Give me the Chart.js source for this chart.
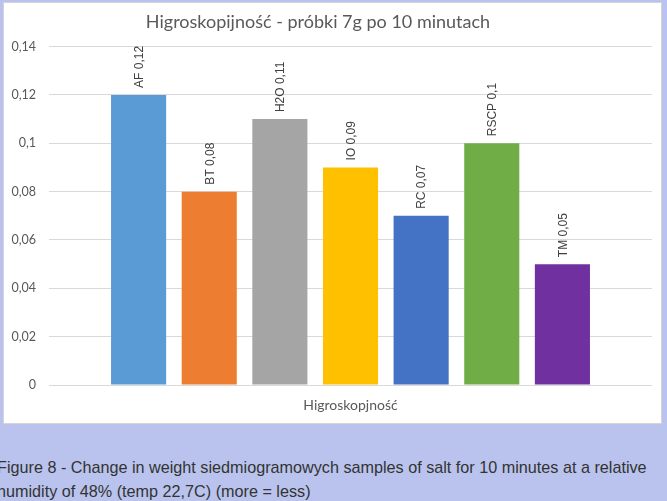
<!DOCTYPE html>
<html>
<head>
<meta charset="utf-8">
<script src="https://cdn.jsdelivr.net/npm/chart.js@4.4.1/dist/chart.umd.min.js"></script>
<style>
  html, body { margin: 0; padding: 0; }
  body { width: 667px; height: 501px; background: #b9c3ed; position: relative; overflow: hidden; }
  #box { position: absolute; left: 3px; top: 2px; width: 657px; height: 420px; background: #fff; border: 1px solid #d4d4d4; }
  #box canvas { display: block; }
  #cap { position: absolute; left: -3px; top: 455px; width: 700px; font-family: "Liberation Sans", Arial, sans-serif; font-size: 16.2px; line-height: 24px; color: #333; white-space: nowrap; }
</style>
</head>
<body>
<div id="box"><canvas id="c" width="657" height="420"></canvas></div>
<div id="cap">Figure 8 - Change in weight siedmiogramowych samples of salt for 10 minutes at a relative<br>humidity of 48% (temp 22,7C) (more = less)</div>
<script>
const categories = ["Higroskopjność"];
const seriesNames = ["AF", "BT", "H2O", "IO", "RC", "RSCP", "TM"];
const seriesValues = [0.12, 0.08, 0.11, 0.09, 0.07, 0.1, 0.05];
const seriesColors = ["#5b9bd5", "#ed7d31", "#a5a5a5", "#ffc000", "#4472c4", "#70ad47", "#7030a0"];
const yTicks = [0, 0.02, 0.04, 0.06, 0.08, 0.1, 0.12, 0.14];

const fmt = v => String(Math.round(v * 100) / 100).replace('.', ',');

const labelPlugin = {
  id: 'vlabels',
  afterLayout(chart) {
    const t = chart.titleBlock;
    if (t) { t.left -= 10; t.right -= 10; }
  },
  afterDatasetsDraw(chart) {
    const ctx = chart.ctx;
    ctx.save();
    ctx.font = '12px "Liberation Sans", Arial, sans-serif';
    ctx.fillStyle = '#404040';
    ctx.textAlign = 'left';
    ctx.textBaseline = 'middle';
    chart.data.datasets.forEach((ds, i) => {
      const meta = chart.getDatasetMeta(i);
      meta.data.forEach((bar, j) => {
        ctx.save();
        ctx.translate(bar.x + 1, bar.y - 7);
        ctx.rotate(-Math.PI / 2);
        ctx.fillText(ds.label + ' ' + fmt(ds.data[j]), 0, 0);
        ctx.restore();
      });
    });
    ctx.restore();
  }
};

new Chart(document.getElementById('c'), {
  type: 'bar',
  data: {
    labels: categories,
    datasets: seriesNames.map((n, i) => ({
      label: n,
      data: [seriesValues[i]],
      backgroundColor: seriesColors[i],
      borderWidth: 0
    }))
  },
  options: {
    responsive: false,
    animation: false,
    devicePixelRatio: 1,
    layout: { padding: { left: 0, right: 9, top: 0, bottom: 0 } },
    datasets: { bar: { categoryPercentage: 0.82, barPercentage: 0.78 } },
    plugins: {
      legend: { display: false },
      tooltip: { enabled: false },
      title: {
        display: true,
        text: 'Higroskopijność - próbki 7g po 10 minutach',
        color: '#595959',
        font: { family: 'Lato, "Open Sans", sans-serif', size: 18, weight: 'normal' },
        padding: { top: 8, bottom: 14 }
      }
    },
    scales: {
      x: {
        afterFit(s) { s.height = 38; },
        grid: { display: false, drawTicks: false },
        border: { display: false },
        ticks: { color: '#595959', padding: 12, font: { family: 'Lato, "Open Sans", sans-serif', size: 14 } }
      },
      y: {
        min: 0, max: 0.14,
        afterFit(s) { s.width = 45; },
        afterBuildTicks(s) { s.ticks = yTicks.map(v => ({ value: v })); },
        grid: { color: '#d9d9d9', drawTicks: false },
        border: { display: false },
        ticks: {
          color: '#595959', padding: 13,
          font: { family: 'Lato, "Open Sans", sans-serif', size: 12.5 },
          callback: v => fmt(v)
        }
      }
    }
  },
  plugins: [labelPlugin]
});
</script>
</body>
</html>
